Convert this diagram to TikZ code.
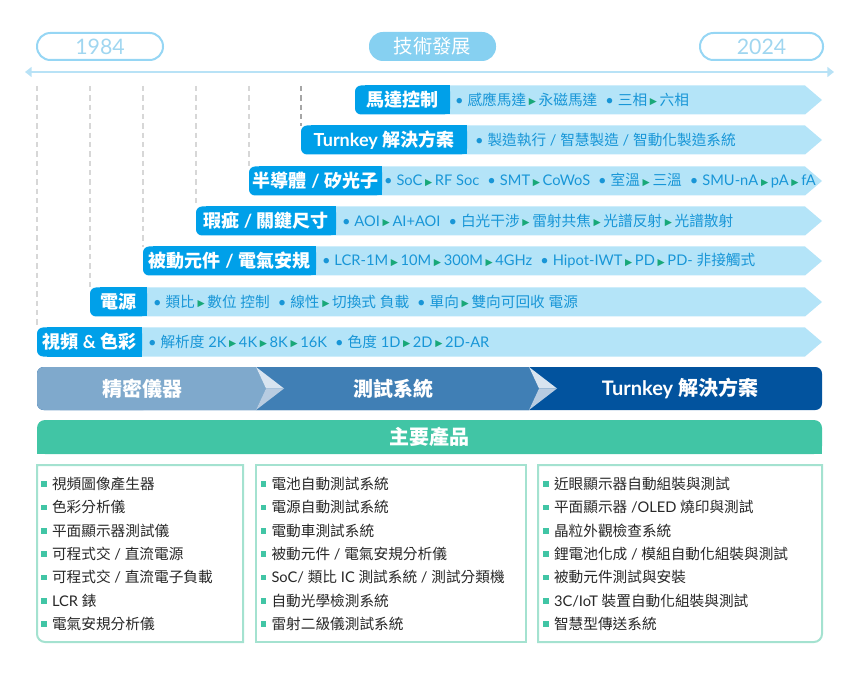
\documentclass[tikz,border=0pt]{standalone}
\usepackage{fontspec}
\usetikzlibrary{arrows.meta}
\setmainfont{Lato}
\newfontfamily\cjkfont{Noto Sans CJK TC}
\newfontfamily\symfont{DejaVu Sans}
\definecolor{labblue}{RGB}{0,160,233}
\definecolor{bandblue}{RGB}{180,228,248}
\definecolor{bandtxt}{RGB}{24,150,215}
\definecolor{tgreen}{RGB}{24,168,120}
\definecolor{yearline}{RGB}{150,214,244}
\definecolor{yeartxt}{RGB}{160,214,240}
\definecolor{techfill}{RGB}{134,208,241}
\definecolor{tlcol}{RGB}{184,226,246}
\definecolor{dashcol}{RGB}{215,215,215}
\definecolor{segA}{RGB}{127,169,204}
\definecolor{segB}{RGB}{64,127,181}
\definecolor{segC}{RGB}{2,83,158}
\definecolor{chevU}{RGB}{216,228,240}
\definecolor{chevL}{RGB}{184,204,225}
\definecolor{mgreen}{RGB}{65,197,165}
\definecolor{boxline}{RGB}{164,226,208}
\definecolor{listtxt}{RGB}{40,40,40}
\newXeTeXintercharclass\CJKcls
\makeatletter
\count@="2E80
\loop
  \XeTeXcharclass\count@=\CJKcls
  \ifnum\count@<"9FFF \advance\count@ by 1
\repeat
\count@="FF00
\loop
  \XeTeXcharclass\count@=\CJKcls
  \ifnum\count@<"FFEF \advance\count@ by 1
\repeat
\makeatother
\XeTeXinterchartoks 0 \CJKcls = {\begingroup\cjkfont}
\XeTeXinterchartoks 4095 \CJKcls = {\begingroup\cjkfont}
\XeTeXinterchartoks \CJKcls 0 = {\endgroup}
\XeTeXinterchartoks \CJKcls 4095 = {\endgroup}
\XeTeXinterchartokenstate=1
\newcommand\tri{\hspace{2pt}\raisebox{0.6pt}{\color{tgreen}\symfont\fontsize{7}{7}\selectfont ▶}\hspace{2pt}}
\newcommand\bul{\hspace{6pt}•\hspace{3pt}}
\newcommand\bulA{•\hspace{3pt}}
\tikzset{
  every node/.style={inner sep=0pt, outer sep=0pt},
  labtext/.style={text=white, font=\fontsize{13.5}{15}\selectfont\bfseries},
  bandtext/.style={anchor=west, text=bandtxt, font=\fontsize{11}{13}\selectfont},
  listtext/.style={anchor=west, text=listtxt, font=\fontsize{11}{13}\selectfont},
  yeartext/.style={text=yeartxt, font=\fontsize{16}{18}\selectfont},
  segtext/.style={text=white, font=\fontsize{15}{17}\selectfont\bfseries},
  boxborder/.style={draw=boxline, line width=1.5pt, fill=white},
  dashv/.style={draw=dashcol, line width=0.8pt, dash pattern=on 4pt off 3pt},
}
\newcommand\rowband[7]{%
  \fill[bandblue] ({#2-4},{#3-14.5}) -- (805,{#3-14.5}) -- (822,#3) -- (805,{#3+14.5}) -- ({#2-4},{#3+14.5}) -- cycle;
  \fill[labblue, rounded corners=4.5pt] (#1,{#3-14.5}) rectangle (#2,{#3+14.5});
  \fill[labblue] ({#1+10},{#3-14.5}) rectangle (#2,{#3+14.5});
  \node[labtext] (#4) at ({(#1+#2)/2},#3) {#5};
  \node[bandtext] (#4t) at (#6,#3) {#7};
}
\newcommand\litem[4]{%
  \fill[mgreen] ({#1},{#2-2.8}) rectangle ({#1+5.6},{#2+2.8});
  \node[listtext] (#3) at ({#1+11},#2) {#4};
}
\begin{document}
\begin{tikzpicture}[x=0.75pt, y=-0.75pt]
\useasboundingbox (0,0) rectangle (864,677);
% header pills
\draw[yearline, line width=1.5pt, rounded corners=10pt] (37,33) rectangle (163,60);
\node[yeartext] (y1984) at (100,46.5) {1984};
\draw[yearline, line width=1.5pt, rounded corners=10pt] (700,33) rectangle (823,60);
\node[yeartext] (y2024) at (761.5,46.5) {2024};
\fill[techfill, rounded corners=10.5pt] (369,32) rectangle (496,61);
\node[text=white, font=\fontsize{14.5}{16}\selectfont] (tech) at (432.5,46.5) {技術發展};
% timeline
\coordinate (tlL) at (25,72);
\coordinate (tlR) at (834,72);
\draw[tlcol, line width=2.2pt, {Triangle[width=7.5pt,length=5pt]}-{Triangle[width=7.5pt,length=5pt]}] (tlL) -- (tlR);
% dashed guides
\draw[dashv] (37,86) -- (37,328);
\draw[dashv] (90,86) -- (90,288);
\draw[dashv] (143,86) -- (143,247);
\draw[dashv] (196,86) -- (196,207);
\draw[dashv] (249,86) -- (249,167);
\draw[dashv, draw=gray!70] (301,86) -- (301,126);
% rows
\rowband{355}{450}{100}{r1}{馬達控制}{455}{\bulA 感應馬達\tri 永磁馬達\bul 三相\tri 六相}
\rowband{301}{467}{140}{r2}{Turnkey 解決方案}{475}{\bulA 製造執行 / 智慧製造 / 智動化製造系統}
\rowband{249}{382}{181}{r3}{半導體 / 矽光子}{384}{\bulA SoC\tri RF Soc\bul SMT\tri CoWoS\bul 室溫\tri 三溫\bul SMU-nA\tri pA\tri fA}
\rowband{196}{336}{221}{r4}{瑕疵 / 關鍵尺寸}{342}{\bulA AOI\tri AI+AOI\bul 白光干涉\tri 雷射共焦\tri 光譜反射\tri 光譜散射}
\rowband{143}{316}{261}{r5}{被動元件 / 電氣安規}{322}{\bulA LCR-1M\tri 10M\tri 300M\tri 4GHz\bul Hipot-IWT\tri PD\tri PD- 非接觸式}
\rowband{90}{147}{302}{r6}{電源}{153}{\bulA 類比\tri 數位 控制\bul 線性\tri 切換式 負載\bul 單向\tri 雙向可回收 電源}
\rowband{37}{142}{342}{r7}{視頻 \& 色彩}{148}{\bulA 解析度 2K\tri 4K\tri 8K\tri 16K\bul 色度 1D\tri 2D\tri 2D-AR}
% bottom process bar
\fill[segC, rounded corners=5pt] (37,367) rectangle (822,410);
\fill[segB] (256,367) -- (529,367) -- (539,388.5) -- (529,410) -- (256,410) -- cycle;
\fill[segA, rounded corners=5pt] (37,367) rectangle (150,410);
\fill[segA] (60,367) -- (256,367) -- (266,388.5) -- (256,410) -- (60,410) -- cycle;
\fill[chevU] (256,367) -- (284,388.5) -- (266,388.5) -- cycle;
\fill[chevL] (266,388.5) -- (284,388.5) -- (256,410) -- cycle;
\fill[chevU] (529,367) -- (557,388.5) -- (539,388.5) -- cycle;
\fill[chevL] (539,388.5) -- (557,388.5) -- (529,410) -- cycle;
\node[segtext] (s1) at (142,388.5) {精密儀器};
\node[segtext] (s2) at (393,388.5) {測試系統};
\node[segtext] (s3) at (680,388.5) {Turnkey 解決方案};
% products header
\fill[mgreen, rounded corners=6pt] (37,420) rectangle (822,454);
\fill[mgreen] (37,440) rectangle (822,454);
\node[text=white, font=\fontsize{15}{17}\selectfont\bfseries] (prod) at (429.5,437) {主要產品};
% boxes
\draw[boxborder] (243,465) -- (37,465) -- (37,634) arc[start angle=180, end angle=90, radius=8] -- (243,642) -- cycle;
\draw[boxborder] (256,465) rectangle (526,642);
\draw[boxborder] (538,465) -- (822,465) -- (822,634) arc[start angle=0, end angle=90, radius=8] -- (538,642) -- cycle;
% list 1
\litem{41}{484}{a1}{視頻圖像產生器}
\litem{41}{507.3}{a2}{色彩分析儀}
\litem{41}{530.7}{a3}{平面顯示器測試儀}
\litem{41}{554}{a4}{可程式交 / 直流電源}
\litem{41}{577.3}{a5}{可程式交 / 直流電子負載}
\litem{41}{600.7}{a6}{LCR 錶}
\litem{41}{624}{a7}{電氣安規分析儀}
% list 2
\litem{260.5}{484}{b1}{電池自動測試系統}
\litem{260.5}{507.3}{b2}{電源自動測試系統}
\litem{260.5}{530.7}{b3}{電動車測試系統}
\litem{260.5}{554}{b4}{被動元件 / 電氣安規分析儀}
\litem{260.5}{577.3}{b5}{SoC/ 類比 IC 測試系統 / 測試分類機}
\litem{260.5}{600.7}{b6}{自動光學檢測系統}
\litem{260.5}{624}{b7}{雷射二級儀測試系統}
% list 3
\litem{543}{484}{c1}{近眼顯示器自動組裝與測試}
\litem{543}{507.3}{c2}{平面顯示器 /OLED 燒印與測試}
\litem{543}{530.7}{c3}{晶粒外觀檢查系統}
\litem{543}{554}{c4}{鋰電池化成 / 模組自動化組裝與測試}
\litem{543}{577.3}{c5}{被動元件測試與安裝}
\litem{543}{600.7}{c6}{3C/IoT 裝置自動化組裝與測試}
\litem{543}{624}{c7}{智慧型傳送系統}
\end{tikzpicture}
\end{document}
